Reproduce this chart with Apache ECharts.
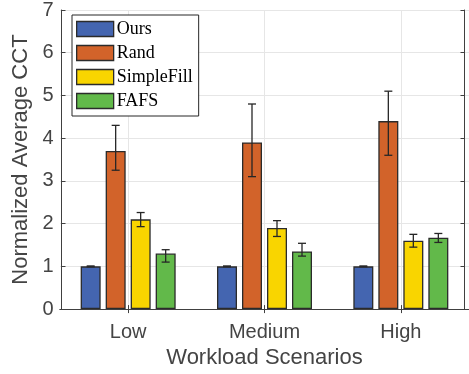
<!DOCTYPE html>
<html>
<head>
<meta charset="utf-8">
<script src="https://cdn.jsdelivr.net/npm/echarts@6/dist/echarts.min.js"></script>
<style>html,body{margin:0;padding:0;background:#fff}#c{width:469px;height:374px}</style>
</head>
<body>
<div id="c"></div>
<script>
const categories = ['Low', 'Medium', 'High'];
const seriesNames = ['Ours', 'Rand', 'SimpleFill', 'FAFS'];
const ours = [1.0, 1.0, 1.0];
const rand = [3.7, 3.9, 4.4];
const simpleFill = [2.1, 1.9, 1.6];
const fafs = [1.3, 1.35, 1.67];
const oursLow = [0.99, 0.99, 0.99];
const oursHigh = [1.01, 1.01, 1.01];
const randLow = [3.25, 3.1, 3.6];
const randHigh = [4.3, 4.8, 5.1];
const simpleFillLow = [1.93, 1.7, 1.45];
const simpleFillHigh = [2.26, 2.07, 1.75];
const fafsLow = [1.1, 1.24, 1.56];
const fafsHigh = [1.39, 1.54, 1.77];
const yTicks = [0, 1, 2, 3, 4, 5, 6, 7];

const values = [ours, rand, simpleFill, fafs];
const lows = [oursLow, randLow, simpleFillLow, fafsLow];
const highs = [oursHigh, randHigh, simpleFillHigh, fafsHigh];
const colors = ['#4465B0', '#D2632A', '#F9D500', '#62B94A'];
const BAR_W = 20, BAR_GAP = 5;
const edge = '#2b2b2b';
const axisCol = '#404040';
const textCol = '#444444';

function errRender(offset) {
  return function (params, api) {
    const idx = api.value(0);
    const pLo = api.coord([idx, api.value(1)]);
    const pHi = api.coord([idx, api.value(2)]);
    const x = pLo[0] + offset;
    const cap = 4;
    const st = { stroke: '#262626', lineWidth: 1.3 };
    return {
      type: 'group',
      children: [
        { type: 'line', shape: { x1: x, y1: pHi[1], x2: x, y2: pLo[1] }, style: st },
        { type: 'line', shape: { x1: x - cap, y1: pHi[1], x2: x + cap, y2: pHi[1] }, style: st },
        { type: 'line', shape: { x1: x - cap, y1: pLo[1], x2: x + cap, y2: pLo[1] }, style: st }
      ]
    };
  };
}

const series = [];
seriesNames.forEach(function (name, i) {
  series.push({
    name: name,
    type: 'bar',
    data: values[i],
    barWidth: BAR_W,
    barGap: (BAR_GAP / BAR_W * 100) + '%',
    itemStyle: { color: colors[i], borderColor: edge, borderWidth: 1.3 },
    z: 3
  });
});
seriesNames.forEach(function (name, i) {
  series.push({
    name: 'err_' + name,
    type: 'custom',
    renderItem: errRender((i - 1.5) * (BAR_W + BAR_GAP)),
    data: categories.map(function (c, j) { return [j, lows[i][j], highs[i][j]]; }),
    encode: { x: 0, y: [1, 2] },
    z: 5,
    silent: true
  });
});

const chart = echarts.init(document.getElementById('c'), null, { renderer: 'canvas' });
chart.setOption({
  animation: false,
  backgroundColor: '#ffffff',
  textStyle: { fontFamily: 'Liberation Sans' },
  grid: { left: 60, top: 7.5, width: 412.5, bottom: 60.5, containLabel: false },
  legend: {
    data: seriesNames,
    orient: 'vertical',
    left: 72,
    top: 15,
    itemWidth: 37,
    itemHeight: 15,
    itemGap: 6,
    padding: [5, 6, 6, 4],
    borderColor: '#262626',
    borderWidth: 1,
    backgroundColor: '#ffffff',
    icon: 'rect',
    itemStyle: { borderColor: edge, borderWidth: 1.3 },
    textStyle: { fontFamily: 'Liberation Serif', fontSize: 18, color: '#000', lineHeight: 15, padding: [0, 0, 0, -2] }
  },
  xAxis: [{
    type: 'category',
    data: categories,
    position: 'bottom',
    name: 'Workload Scenarios',
    nameLocation: 'middle',
    nameGap: 33,
    nameTextStyle: { fontSize: 22, color: textCol, fontFamily: 'Liberation Sans' },
    axisLine: { lineStyle: { color: axisCol, width: 1 } },
    axisTick: { show: true, inside: true, length: 4, alignWithLabel: true, lineStyle: { color: axisCol } },
    axisLabel: { fontSize: 20, color: textCol, margin: 13, fontFamily: 'Liberation Sans' },
    splitLine: { show: true, alignWithLabel: true, lineStyle: { color: '#e6e6e6', width: 1 } }
  }, {
    type: 'category',
    data: categories,
    position: 'top',
    axisLine: { lineStyle: { color: axisCol, width: 1 } },
    axisTick: { show: true, inside: true, length: 4, alignWithLabel: true, lineStyle: { color: axisCol } },
    axisLabel: { show: false },
    splitLine: { show: false }
  }],
  yAxis: [{
    type: 'value',
    min: 0,
    max: 7,
    interval: 1,
    offset: -1.5,
    name: 'Normalized Average CCT',
    nameLocation: 'middle',
    nameRotate: 90,
    nameGap: 20,
    nameTextStyle: { fontSize: 22, color: textCol, fontFamily: 'Liberation Sans' },
    axisLine: { show: true, lineStyle: { color: axisCol, width: 1 } },
    axisTick: { show: true, inside: true, length: 4, lineStyle: { color: axisCol } },
    axisLabel: {
      fontSize: 20, color: textCol, margin: 8, fontFamily: 'Liberation Sans',
      formatter: function (v) { return yTicks.indexOf(v) >= 0 ? String(v) : ''; }
    },
    splitLine: { show: true, lineStyle: { color: '#e6e6e6', width: 1 } }
  }, {
    type: 'value',
    min: 0,
    max: 7,
    interval: 1,
    position: 'right',
    offset: -4.5,
    axisLine: { show: true, lineStyle: { color: axisCol, width: 1 } },
    axisTick: { show: true, inside: true, length: 4, lineStyle: { color: axisCol } },
    axisLabel: { show: false },
    splitLine: { show: false }
  }],
  series: series
});
</script>
</body>
</html>
